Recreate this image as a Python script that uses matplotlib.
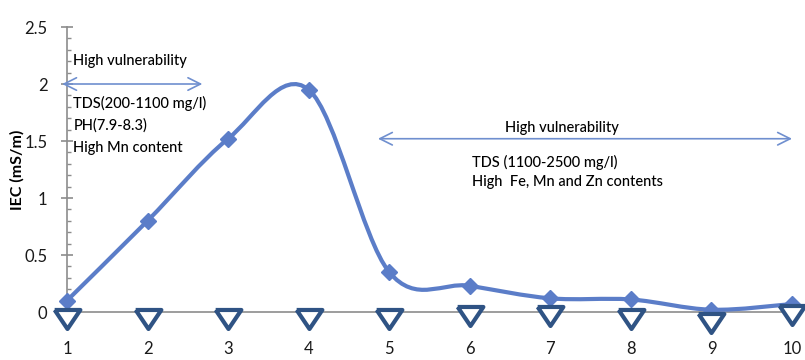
import numpy as np
import matplotlib.pyplot as plt
from matplotlib.path import Path
from matplotlib.patches import PathPatch

plt.rcParams['font.family'] = ['Lato', 'DejaVu Sans']

# Werte
samples = [1, 2, 3, 4, 5, 6, 7, 8, 9, 10]
iec = [0.10, 0.80, 1.52, 1.95, 0.35, 0.23, 0.12, 0.11, 0.02, 0.07]
zero_marks = [-0.06, -0.06, -0.06, -0.06, -0.06, -0.035, -0.035, -0.06, -0.10, -0.03]
y_ticks = [0, 0.5, 1, 1.5, 2, 2.5]

line_col = '#5B7DC8'
tri_col = '#2F5384'
axis_col = '#8C8C8C'

fig = plt.figure(figsize=(8.05, 3.60), dpi=100)
ax = fig.add_axes([0.0832, 0.1333, 0.9007, 0.7917])


# geglaettete Linie wie in Excel (Bezier durch die Messpunkte)
def smooth_path(x, y):
    pts = np.column_stack([x, y]).astype(float)
    ext = np.vstack([pts[0], pts, pts[-1]])
    verts = [pts[0]]
    codes = [Path.MOVETO]
    for i in range(len(pts) - 1):
        p0, p1, p2, p3 = ext[i], ext[i + 1], ext[i + 2], ext[i + 3]
        verts += [p1 + (p2 - p0) / 6, p2 - (p3 - p1) / 6, p2]
        codes += [Path.CURVE4] * 3
    return Path(verts, codes)


ax.add_patch(PathPatch(smooth_path(samples, iec), facecolor='none',
                       edgecolor=line_col, lw=3, zorder=3, capstyle='round'))
ax.plot(samples, iec, ls='none', marker='D', ms=8.5, color=line_col, zorder=4,
        clip_on=False)

tri = [(-1.35, 1.0), (1.35, 1.0), (0.0, -1.0), (-1.35, 1.0)]
ax.plot(samples, zero_marks, ls='none', marker=tri, ms=18.5, mfc='white',
        mec=tri_col, mew=3, zorder=5, clip_on=False)

# Pfeile und Beschriftungen
arr = dict(arrowstyle='<->,head_length=0.9,head_width=0.45', color='#6F8FCF', lw=1.2,
           shrinkA=0, shrinkB=0)
ax.annotate('', xy=(0.94, 2.0), xytext=(2.68, 2.0), arrowprops=arr, annotation_clip=False)
ax.annotate('', xy=(4.86, 1.52), xytext=(10.0, 1.52), arrowprops=arr, annotation_clip=False)

tkw = dict(fontsize=10.5, color='black', va='center', fontweight='medium')
ax.text(1.08, 2.2, 'High vulnerability', **tkw)
ax.text(1.08, 1.83, 'TDS(200-1100 mg/l)', **tkw)
ax.text(1.08, 1.64, 'PH(7.9-8.3)', **tkw)
ax.text(1.08, 1.44, 'High Mn content', **tkw)
ax.text(7.14, 1.61, 'High vulnerability', ha='center', **tkw)
ax.text(6.03, 1.31, 'TDS (1100-2500 mg/l)', **tkw)
ax.text(6.03, 1.14, 'High  Fe, Mn and Zn contents', **tkw)

ax.set_xlim(1, 10)
ax.set_ylim(0, 2.5)
ax.set_xticks(samples)
ax.set_yticks(y_ticks)
ax.set_yticklabels(['0', '0.5', '1', '1.5', '2', '2.5'])
ax.set_yticks(np.arange(0, 2.51, 0.1), minor=True)

for s in ['top', 'right']:
    ax.spines[s].set_visible(False)
for s in ['left', 'bottom']:
    ax.spines[s].set_color(axis_col)
    ax.spines[s].set_linewidth(1.2)

ax.tick_params(axis='y', which='major', direction='inout', length=8, width=1.2,
               color=axis_col, labelsize=12, labelcolor='#1A1A1A', pad=10)
ax.tick_params(axis='y', which='minor', direction='in', length=3, width=1.0,
               color=axis_col)
ax.tick_params(axis='x', direction='out', length=4, width=1.0, color=axis_col,
               labelsize=12, labelcolor='#1A1A1A', pad=17)

ax.set_ylabel('IEC (mS/m)', fontsize=11.5, fontweight='bold', labelpad=0)

fig.savefig('out.png', dpi=100, facecolor='white')
